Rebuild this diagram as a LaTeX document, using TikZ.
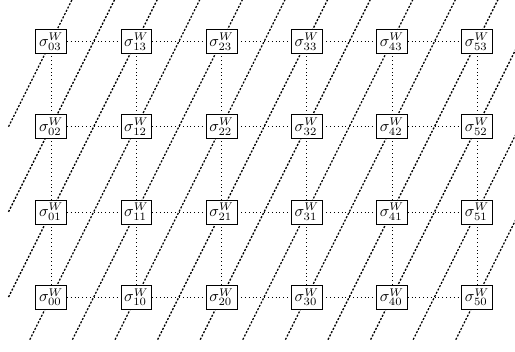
\documentclass[tikz,border=0pt]{standalone}
\usepackage{tikz}
\usetikzlibrary{backgrounds}

\begin{document}
\begin{tikzpicture}[
  x=1.875cm,y=1.875cm,
  site/.style={draw,fill=white,inner sep=2.1pt},
  bond/.style={dotted},
  ray/.style={thick,dash pattern=on 1.3pt off 1pt}
]
  \useasboundingbox (-0.6,-0.64) rectangle (5.445,3.487);

  % lattice sites
  \foreach \i in {0,...,5}
    \foreach \j in {0,...,3}
      \node[site] (sigma-\i-\j) at (\i,\j) {$\sigma^{W}_{\i\j}$};

  % dotted bonds
  \foreach \i in {0,...,4}
    \foreach \j in {0,...,3} {
      \pgfmathtruncatemacro\inext{\i+1}
      \draw[bond] (sigma-\i-\j) -- (sigma-\inext-\j);
    }
  \foreach \i in {0,...,5}
    \foreach \j in {0,...,2} {
      \pgfmathtruncatemacro\jnext{\j+1}
      \draw[bond] (sigma-\i-\j) -- (sigma-\i-\jnext);
    }

  % slanted lines behind the sites
  \begin{scope}[on background layer]
    \foreach \c in {-1.5,-1,...,5} {
      \pgfmathsetmacro\ylow{max(-0.5,-1-2*\c)}
      \pgfmathsetmacro\yhigh{min(3.5,11-2*\c)}
      \coordinate (ray-low) at ({\c+\ylow/2},\ylow);
      \coordinate (ray-high) at ({\c+\yhigh/2},\yhigh);
      \draw[ray] (ray-low) -- (ray-high);
    }
  \end{scope}
\end{tikzpicture}
\end{document}
